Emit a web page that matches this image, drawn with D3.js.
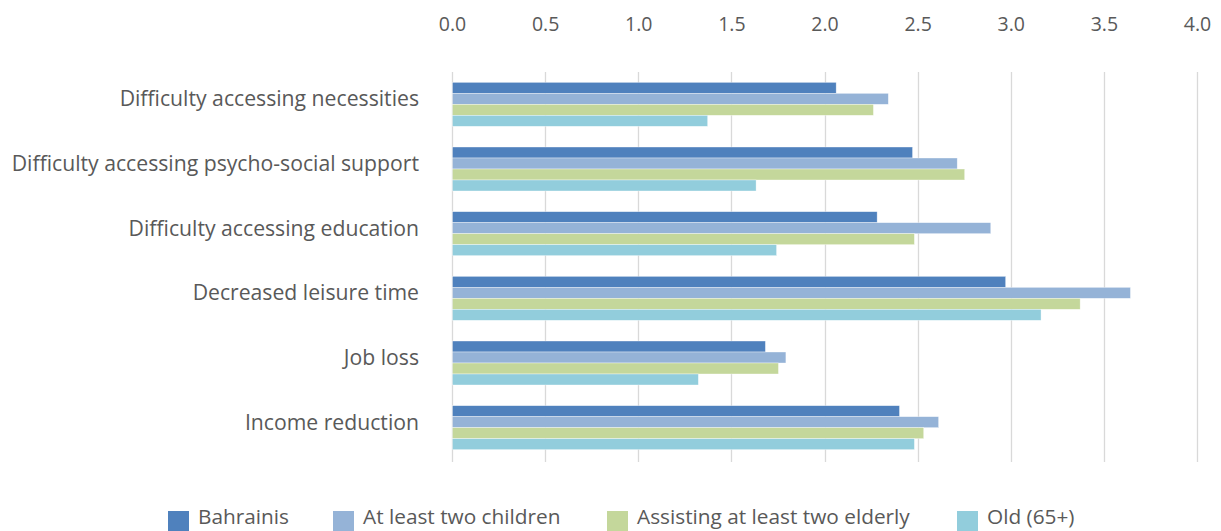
<!DOCTYPE html>
<html><head><meta charset="utf-8">
<script src="https://cdn.jsdelivr.net/npm/d3@7"></script>
<style>body{margin:0;background:#fff;} svg{display:block;}</style>
</head><body>
<svg id="chart" width="1221" height="531"></svg>
<script>
const categories = ["Difficulty accessing necessities","Difficulty accessing psycho-social support","Difficulty accessing education","Decreased leisure time","Job loss","Income reduction"];
const seriesNames = ["Bahrainis","At least two children","Assisting at least two elderly","Old (65+)"];
const bahrainis = [2.06, 2.47, 2.28, 2.97, 1.68, 2.40];
const children  = [2.34, 2.71, 2.89, 3.64, 1.79, 2.61];
const elderly   = [2.26, 2.75, 2.48, 3.37, 1.75, 2.53];
const old65     = [1.37, 1.63, 1.74, 3.16, 1.32, 2.48];
const xTicks = [0,0.5,1,1.5,2,2.5,3,3.5,4];
const colors = ["#4F81BD","#95B3D7","#C4D79B","#92CDDC"];

const seriesValues = [bahrainis, children, elderly, old65];
const font = "'Open Sans', Lato, sans-serif";
const textColor = "#595959";

const svg = d3.select("#chart");
const x = d3.scaleLinear().domain([0,4]).range([452,1197]);
const y0 = d3.scaleBand().domain(categories).range([72,460]).paddingInner(0.32).paddingOuter(0.16);
const y1 = d3.scaleBand().domain(seriesNames).range([0, y0.bandwidth()]);

// gridlines
svg.append("g").selectAll("line").data(xTicks).join("line")
  .attr("x1", d=>Math.round(x(d))+0.5).attr("x2", d=>Math.round(x(d))+0.5)
  .attr("y1",72).attr("y2",462)
  .attr("stroke","#d9d9d9").attr("stroke-width",1.3);

// top axis labels
const xAxis = d3.axisTop(x).tickValues(xTicks).tickFormat(d3.format(".1f")).tickSize(0).tickPadding(0);
const ax = svg.append("g").attr("transform","translate(0,31)").call(xAxis);
ax.select(".domain").remove();
ax.selectAll("text").attr("font-family",font).attr("font-size",19.5).attr("fill",textColor).attr("dy",0);

// bars
const groups = svg.append("g").selectAll("g").data(categories).join("g")
  .attr("transform", c=>`translate(0,${y0(c)})`);
groups.selectAll("rect").data((c,i)=>seriesNames.map((s,j)=>({s, v: seriesValues[j][i], j})))
  .join("rect")
  .attr("x", x(0)+0.5)
  .attr("y", d=>y1(d.s))
  .attr("width", d=>x(d.v)-x(0))
  .attr("height", y1.bandwidth())
  .attr("fill", d=>colors[d.j])
  .attr("stroke","#ffffff").attr("stroke-opacity",0.6).attr("stroke-width",0.6);

// category labels
svg.append("g").selectAll("text").data(categories).join("text")
  .attr("x",419).attr("y", c=>y0(c)+y0.bandwidth()/2+2)
  .attr("text-anchor","end")
  .attr("font-family",font).attr("font-size",21.2).attr("fill",textColor)
  .text(c=>c);

// legend
const legendX = [168, 333, 607, 957];
const lg = svg.append("g").selectAll("g").data(seriesNames).join("g")
  .attr("transform",(d,i)=>`translate(${legendX[i]},0)`);
lg.append("rect").attr("x",0).attr("y",511).attr("width",21).attr("height",20).attr("fill",(d,i)=>colors[i]);
lg.append("text").attr("x",30).attr("y",524).attr("font-family",font).attr("font-size",20.8).attr("fill",textColor).text(d=>d);
</script>
</body></html>
